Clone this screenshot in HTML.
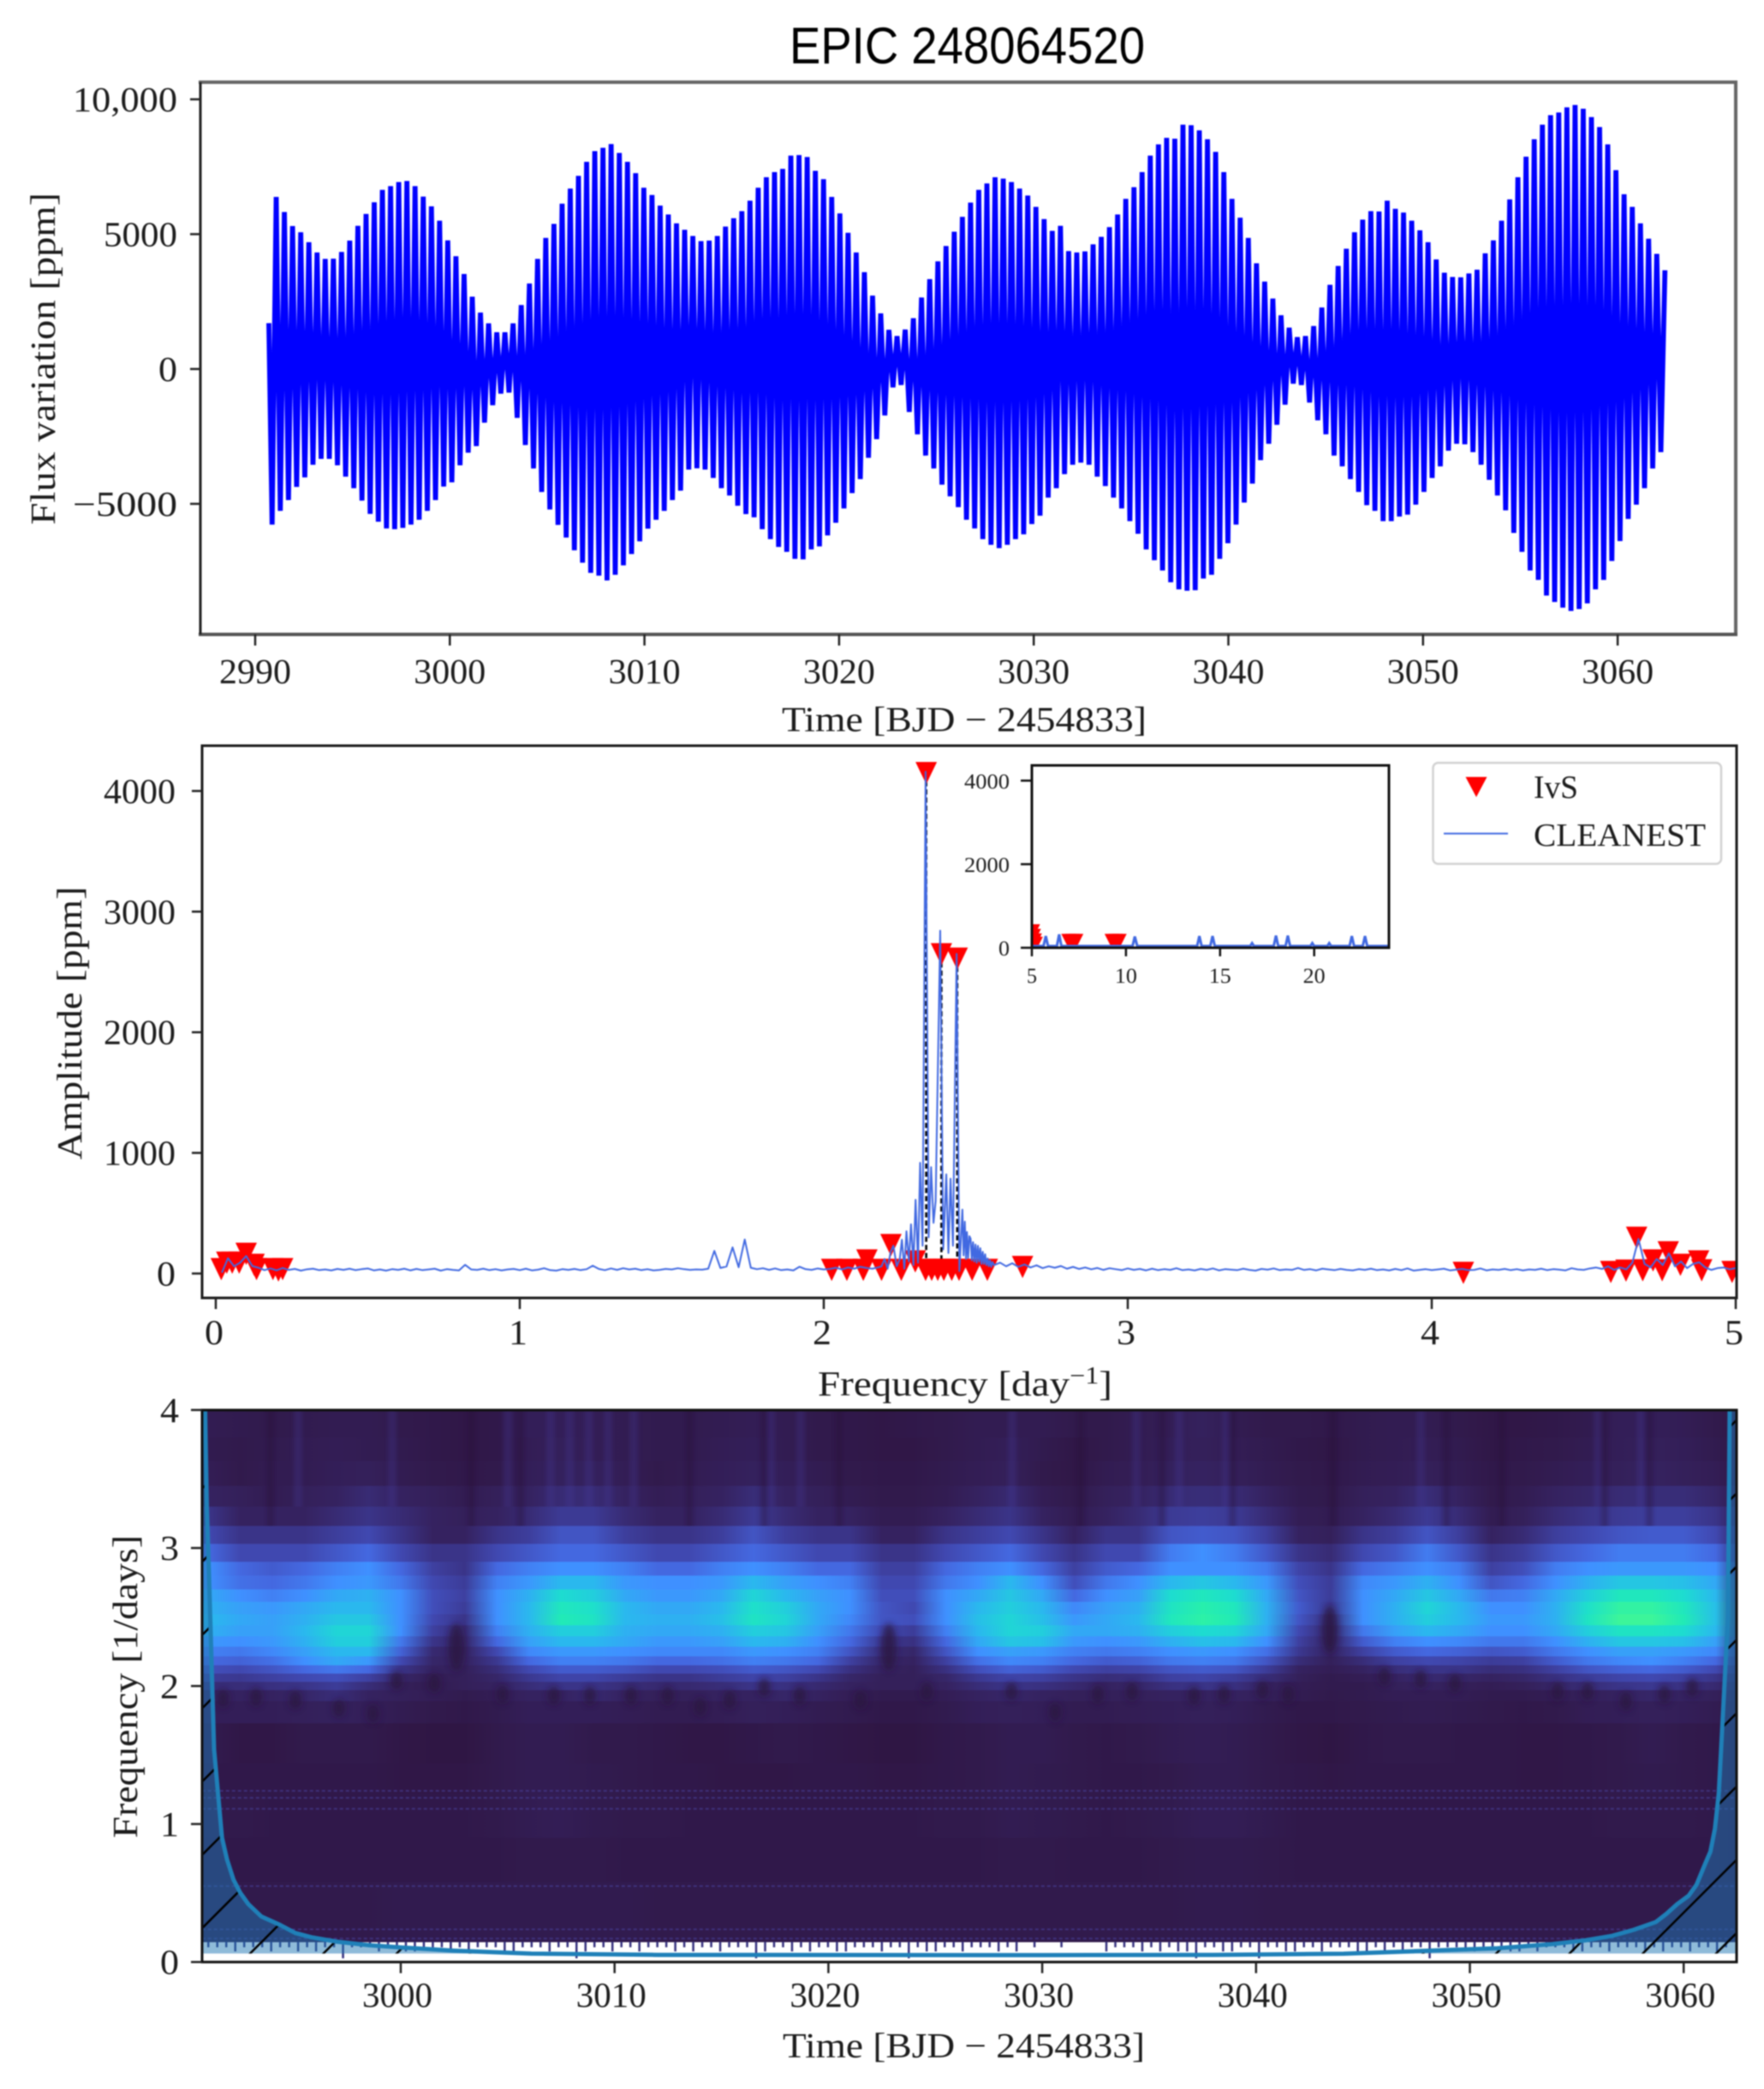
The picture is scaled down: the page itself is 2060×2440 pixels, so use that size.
<!DOCTYPE html>
<html lang="en">
<head>
<meta charset="utf-8">
<title>EPIC 248064520</title>
<style>
html,body{margin:0;padding:0;background:#fff;width:2060px;height:2440px;overflow:hidden;}
#chart{display:block;width:2060px;height:2440px;overflow:hidden;filter:blur(0.7px);}
text{font-family:"Liberation Serif",serif;fill:#1c1c1c;}
.sans{font-family:"Liberation Sans",sans-serif;fill:#000;}
</style>
</head>
<body>
<svg id="chart" xmlns="http://www.w3.org/2000/svg" width="2060" height="2440" viewBox="0 0 2060 2440">
  <defs>
    <clipPath id="clip-flux"><rect x="234" y="96" width="1793" height="645"/></clipPath>
    <clipPath id="clip-spec"><rect x="236" y="871" width="1792" height="645"/></clipPath>
    <clipPath id="clip-inset"><rect x="1205" y="894" width="417" height="213"/></clipPath>
    <clipPath id="clip-wave"><rect x="236" y="1647" width="1792" height="645"/></clipPath>
    <clipPath id="clip-coi"><path id="coi-clip-path" d=""/></clipPath>
    <filter id="soft" x="-80%" y="-80%" width="260%" height="260%"><feGaussianBlur stdDeviation="4"/></filter>
    <filter id="soft-x" x="-150%" y="-5%" width="400%" height="110%"><feGaussianBlur stdDeviation="2.5 0"/></filter>
  </defs>
  <rect x="0" y="0" width="2060" height="2440" fill="#fff"/>

  <text class="sans" x="922" y="74" font-size="60" textLength="415" lengthAdjust="spacingAndGlyphs">EPIC 248064520</text>

  <g id="panel-flux"></g>
  <text transform="rotate(-90 64 419)" x="64" y="419" text-anchor="middle" font-size="41" textLength="388" lengthAdjust="spacingAndGlyphs">Flux variation [ppm]</text>
  <text x="913" y="854" font-size="41" textLength="426" lengthAdjust="spacingAndGlyphs">Time [BJD − 2454833]</text>

  <g id="panel-spec"></g>
  <text transform="rotate(-90 95 1195)" x="95" y="1195" text-anchor="middle" font-size="41" textLength="319" lengthAdjust="spacingAndGlyphs">Amplitude [ppm]</text>
  <text x="955" y="1630" font-size="41" textLength="344" lengthAdjust="spacingAndGlyphs">Frequency [day<tspan dy="-14" font-size="28">−1</tspan><tspan dy="14">]</tspan></text>

  <g id="panel-inset"></g>

  <g>
    <rect x="1673.5" y="891" width="336.5" height="118" rx="6" fill="#fff" stroke="#d2d2d2" stroke-width="2.5"/>
    <path d="M1711.5 907.5 L1736.5 907.5 L1724 931 Z" fill="#ff0000"/>
    <text x="1791" y="932" font-size="38" textLength="52" lengthAdjust="spacingAndGlyphs">IvS</text>
    <line x1="1686" y1="973.6" x2="1761" y2="973.6" stroke="#4169e1" stroke-width="2"/>
    <text x="1791" y="988" font-size="38" textLength="201" lengthAdjust="spacingAndGlyphs">CLEANEST</text>
  </g>

  <g id="panel-wave"></g>
  <text transform="rotate(-90 160 1970)" x="160" y="1970" text-anchor="middle" font-size="41" textLength="354" lengthAdjust="spacingAndGlyphs">Frequency [1/days]</text>
  <text x="914" y="2403" font-size="41" textLength="423" lengthAdjust="spacingAndGlyphs">Time [BJD − 2454833]</text>
</svg>

<script>
/* ---------- flux panel data ---------- */
const fluxTickTimes = [2990,3000,3010,3020,3030,3040,3050,3060];
const fluxTickValues = [10000,5000,0,-5000];
const fluxTickLabels = ["10,000","5000","0","−5000"];
const fluxStartValue = 1700;
const fluxFirstCrest = 2991.08;
const fluxCyclePeriod = 0.4197;
const fluxCrests = [6380,5820,5300,5070,4700,4320,4080,4090,4340,4760,
5310,5750,6180,6640,6780,6930,6970,6780,6390,6030,
5500,4770,4180,3520,2680,2090,1690,1360,1360,1690,
2370,3170,4080,4860,5380,6130,6690,7160,7680,8080,
8200,8340,8010,7680,7260,6720,6450,6060,5730,5400,
5160,4930,4740,4760,4930,5280,5590,5850,6240,6720,
7110,7300,7420,7910,7930,7860,7350,7040,6380,5770,
5050,4320,3590,2720,2060,1450,1220,1460,1880,2650,
3330,3990,4560,5090,5640,6170,6640,6880,7110,7060,
6930,6690,6430,6010,5560,5120,5310,4370,4320,4360,
4620,4900,5260,5730,6310,6740,7300,7910,8330,8570,
8540,9060,9040,8850,8520,8050,7300,6310,5610,4860,
3920,3240,2610,1990,1530,1180,1220,1590,2280,3120,
3820,4460,5070,5540,5850,5840,6240,5940,5800,5500,
5140,4700,4060,3570,3410,3400,3540,3680,4290,4770,
5500,6290,7110,7870,8520,9060,9410,9510,9700,9790,
9650,9340,8970,8330,7370,6480,6010,5400,4830,4270,3660];
const fluxTroughs = [5770,5260,4860,4370,4020,3550,3330,3330,3570,3990,
4420,4880,5370,5660,5910,5940,5890,5770,5590,5260,
4860,4360,4200,3570,3100,2860,1990,1340,910,870,
1810,2820,3690,4560,5210,5780,6250,6720,7180,7560,
7660,7840,7630,7280,6860,6390,5920,5590,5260,4860,
4510,3730,3680,3730,4040,4420,4690,5070,5380,5500,
5940,6310,6600,6780,7040,7060,6690,6580,6170,5700,
5170,4600,4080,3290,2600,1720,680,590,1590,2420,
3210,3690,4290,4720,5120,5590,5910,6310,6520,6640,
6520,6310,6130,5750,5440,4770,4420,3900,3550,3470,
3550,3990,4340,4770,5170,5640,6110,6690,7090,7470,
7910,8170,8220,8200,7770,7630,7040,6460,5770,4950,
4250,3380,2770,2070,1320,540,590,1240,1900,2420,
3210,3610,4080,4560,5050,5260,5640,5640,5470,5400,
5030,4560,4040,3610,3030,2770,2790,3080,3550,4110,
4690,5240,6080,6780,7470,7820,8400,8640,8850,8970,
8900,8690,8170,7820,7120,6380,5560,5030,4420,3690,3080];

/* ---------- spectrum panel data ---------- */
const specXTicks = [0,1,2,3,4,5];
const specYTicks = [0,1000,2000,3000,4000];
const specNoiseLowStart = 0.02;
const specNoiseStep = 0.02;
const specNoiseLow = [7,127,60,90,145,62,48,28,42,26,46,30,38,24,35,40,28,34,26,38,
30,40,28,36,42,26,34,24,36,30,40,26,38,28,34,40,24,36,30,26,
72,34,30,40,28,36,26,34,38,28,40,26,32,44,28,24,36,30,38,28,
36,65,38,28,42,30,44,34,40,28,36,26,30,38,34,44,36,30,34,32,
40,188,46,58,217,52,282,48,36,44,30,42,28,34,26,56,36,30,42,34,
38,48,34,50,40,56,46,40,52];
const specCombFreq = [2.19,2.20,2.21,2.22,2.229,2.24,2.25,2.257,2.265,2.272,2.28,2.287,2.295,2.302,2.31,2.317,2.325,2.335,2.345,2.353,2.361,2.368,2.383,2.393,2.403,2.41,2.417,2.425,2.437,2.446,2.456,2.46,2.464,2.468,2.471,2.475,2.479,2.483,2.487,2.491,2.495,2.499,2.503,2.507,2.511,2.515,2.519,2.523,2.527,2.531,2.535,2.539,2.543,2.547,2.551,2.555];
const specCombAmp = [60,120,40,180,230,60,120,280,40,350,100,408,70,611,90,918,230,4160,300,882,420,600,2842,200,822,170,786,230,2650,20,530,150,430,120,344,130,310,290,110,260,100,240,90,230,100,210,80,180,80,160,70,125,60,110,55,95];
const specNoiseHighStart = 2.56;
const specNoiseHigh = [70,90,60,85,55,75,50,68,45,60,
48,62,40,55,38,50,35,46,30,44,
36,28,42,30,38,26,40,28,36,30,
44,28,34,26,38,30,42,26,36,32,
28,40,30,24,38,32,42,28,34,30,
46,30,36,26,40,34,28,38,30,26,
36,30,40,28,34,26,38,28,42,24,
30,36,28,34,40,26,32,38,28,30,
42,26,34,30,38,28,36,26,34,30,
40,28,36,32,26,44,34,30,42,50,
38,60,30,50,34,90,287,80,50,120,
70,167,60,100,45,80,93,50,30,45,
50,35,45,30];
const dominantFreq = [2.337,2.387,2.439];
const dominantAmp = [4148,2646,2610];
const ivsFreq = [0.018,0.036,0.054,0.077,0.1,0.126,0.134,0.188,0.206,0.22,
2.026,2.076,2.13,2.142,2.19,2.221,2.255,2.301,2.335,2.355,2.375,2.395,2.421,2.445,2.488,2.538,2.654,4.104,4.589,4.639,4.674,4.694,4.728,4.758,4.778,4.818,4.878,4.888,4.988];
const ivsAmp = [36,90,90,90,163,72,36,36,25,36,
30,30,30,108,30,236,30,100,30,30,30,30,30,30,30,30,54,5,12,24,296,27,108,27,176,72,100,27,12];

/* ---------- inset data ---------- */
const insetXTicks = [5,10,15,20];
const insetYTicks = [0,2000,4000];
const insetFreq = [5,5.62,5.74,5.86,6.33,6.45,6.57,10.35,10.47,10.6,13.78,13.9,14.02,14.48,14.6,14.72,16.6,16.7,16.8,17.85,17.97,18.09,18.48,18.6,18.72,19.8,19.9,20,20.7,20.8,20.9,21.88,22,22.12,22.58,22.7,22.82,24];
const insetAmp = [40,40,280,40,40,320,40,40,270,40,40,280,40,40,280,40,40,110,40,40,290,40,40,290,40,40,110,40,40,110,40,40,280,40,40,280,40,40];
const insetIvsFreq = [5.05,5.1,5.15,5.2,6.95,7.15,7.35,9.25,9.45,9.65];
const insetIvsAmp = [390,280,170,90,160,160,160,160,160,160];

/* ---------- wavelet panel data ---------- */
const waveXTicks = [3000,3010,3020,3030,3040,3050,3060];
const waveYTicks = [0,1,2,3,4];
const heatColumnStart = 2991;
const heatColumnStep = 1.5;
const heatBandEdges = [4,3.80,3.63,3.45,3.30,3.16,3.03,2.90,2.80,2.70,2.61,2.52,2.44,2.36,2.285,2.215,2.15,2.09,2.03,1.97,1.89,1.73,1.44,1.22,0.90,0.58,0.147];
const heatBands = [
[.5,.4,.3,.4,.5,.5,.3,.2,.1,.2,.7,.7,.6,.5,.4,.4,.5,.6,.5,.3,.2,.1,.2,.3,.5,.5,.5,.3,.3,.5,.6,.9,.5,.3,.3,.2,.4,.5,.5,.3,.1,.1,.2,.4,.7,.7,.6,.3,0],
[.4,.3,.4,.5,.6,.5,.4,.2,.1,.2,.6,.8,.6,.5,.4,.4,.6,.7,.5,.3,.2,.1,.1,.3,.5,.7,.4,.1,.3,.5,.7,.8,.6,.4,.2,.1,.4,.5,.6,.4,.1,.2,.3,.5,.7,.8,.7,.4,0],
[.6,.3,.5,.5,.7,.8,.5,.3,.2,.3,.7,.9,.9,.6,.3,.5,.7,.9,.7,.5,.3,.2,.2,.4,.6,.8,.3,.1,.5,.6,.9,1,.8,.5,.3,.2,.5,.6,.8,.5,.2,.3,.5,.7,.8,1,.8,.6,0],
[1,.8,.5,.8,1,1.5,1,.8,.5,.8,1,1.5,1.5,1,.6,.8,1,1.6,1,.8,.5,.3,.3,.5,1,1.4,.6,.3,.8,1,1.5,1.6,1.5,1,.4,.3,.8,1,1.6,1,.3,.5,1,1.2,1.5,1.6,1.6,1.2,0],
[2,1,1,1,1.5,2,1.5,1,.8,1,1.5,2.3,2.3,1.5,1,1,1.5,2.3,1.5,1,1,.5,.5,1,1.5,2,1,.5,1,1.5,2.3,2.5,2.3,1.5,.6,.5,1,1.5,2.3,1.5,.5,.8,1.5,2,2.3,2.5,2.5,2,0],
[3,2,2,2,2.5,3,2,1,1,2,2.5,3.4,3.4,2.5,2,2,2.5,3.4,2.5,2,2,1,1,2,2.5,3,2,1,2,2,3.4,3.6,3.4,2.5,1,.8,2,2.5,3.4,2.5,1,1.5,2.5,3,3.4,3.6,3.6,3,0],
[4,3,3,3,3.5,4,3,2,2,3,3.5,4,4,3.5,3,3,3.5,4,3.5,3,3,2,2,3,3.5,4,3,2,3,3,4.5,5,4.5,3.5,2,1.5,3,3.5,4.5,3.5,2,2.5,3.5,4,4.5,4.5,4.5,4,0],
[5,4,3.6,4,4.6,5,4,2.6,2,4,4.6,5,5,4.6,4,4,4.6,5,4.6,4,4,2.6,2.6,4,4.6,5,4,2.6,3.6,4,5,5,5,4.5,2.8,2,4,4.5,5,4.5,2.6,3.2,4.5,5,5.2,5.2,5.2,5,0],
[5,4.2,4,4.4,5,5.2,4.4,3,2.4,4.6,5.2,6,6,5.2,5,5,5.2,6,5.4,5,4.6,3,3,4.4,5,6,5,3.2,4.4,5,6,6.4,6,5.2,3.2,2.4,4.8,5.2,5.8,5,3.4,4,5,5.8,6.4,6.4,6.2,5.6,0],
[5.6,5,4.6,5,5.6,5.8,5,3.2,2.6,5,5.8,7,6.6,5.6,5.2,5.2,5.6,6.8,6,5.4,5,3.2,3.2,5,5.6,6.4,5.6,4,5,5.4,7,7.6,7,5.6,3.4,2.4,5,5.6,6.4,5.6,4.4,4.6,5.6,6.6,7.6,7.6,7,6,0],
[5.8,5.4,5.2,5.6,6,6,5,3.2,2.4,5,6,7.6,7.2,6,5.6,5.6,6,7.2,6.6,5.6,5,3.4,3,5,6,6.6,6,4.8,5.4,5.8,7.4,8.2,7.6,5.8,3.6,2.2,5,5.8,6.8,6,5,5,5.8,7.2,8.6,8.6,7.6,6.2,0],
[6,5.6,5.4,5.8,6.4,6.4,5,3,2,5,6,7.8,7.4,6,5.8,5.8,6.2,7.4,6.8,5.6,4.8,3.4,3.2,5,6.2,6.8,6.2,5.2,5.6,6,7.6,8.4,7.8,5.8,3.4,1.6,5,5.8,6.6,6,5.2,5.2,5.8,7.4,9,9,7.8,6.2,0],
[5.8,5.4,5.4,6,6.8,6.8,5,2.6,1.4,4.6,5.8,6.6,6.6,5.8,5.6,5.6,5.8,6.6,6.4,5.4,4.4,3,2.4,4.6,6,6.8,6.6,5.6,5.6,5.8,6.6,7,6.8,5.6,3,1.2,4.4,5.4,6,5.6,5,5,5.6,6.6,7.4,7.4,7,6,0],
[5.2,5,5.2,5.8,6.6,6.6,4.4,2,1.2,4,5.4,6,6,5.6,5.2,5.2,5.4,6,5.8,5,4,2.2,1.8,4,5.6,6.4,6.2,5.2,5,5.2,5.8,6.2,6,5,2.6,1,3.6,4.6,5,4.8,4.4,4.4,5,5.8,6.4,6.4,6.2,5.4,0],
[4.6,4.4,4.8,5.4,6,6,3.8,1.4,1,3,4.8,5.2,5.2,5,4.8,4.8,4.8,5.2,5,4.6,3.4,1.6,1.2,3.4,5,5.4,5.2,4.6,4.4,4.6,5,5.2,5,4.2,2.2,1,2.6,3.6,4,3.8,3.4,3.6,4.4,5,5.4,5.4,5.2,4.8,0],
[4,3.8,4.2,5,5.6,5.2,3,1.2,1,2.2,4,4.6,4.6,4.4,4,4,4.2,4.6,4.4,4,2.6,1.2,1,2.6,4.2,4.8,4.6,4,3.6,3.8,4.4,4.6,4.4,3.4,1.6,.8,1.6,2.6,3,2.8,2.4,2.6,3.6,4.4,4.8,5,4.6,4,0],
[3.2,3,3.4,4,4.4,4,2,1,.8,1.6,3,3.6,3.6,3.4,3,3,3.2,3.6,3.4,3,1.8,1,.8,1.8,3.2,3.8,3.6,3,2.6,2.8,3.4,3.6,3.4,2.4,1,.6,1,1.6,2,2,1.6,1.8,2.6,3.4,3.8,4,3.6,3,0],
[2.4,2.2,2.6,3,3.2,2.6,1.2,.6,.8,1.2,2.2,2.8,2.8,2.4,2,2,2.4,2.8,2.6,2,1.2,.8,.8,1.2,2.2,2.8,2.6,2,1.6,1.8,2.6,2.8,2.4,1.6,.8,.4,.6,1,1.4,1.2,1,1.2,1.8,2.4,2.8,3,2.6,2,0],
[1.6,1.6,1.8,2,2.4,1.6,.8,.5,.8,1,1.6,2,2,1.6,1.4,1.4,1.6,2,1.8,1.4,1,.8,.8,1,1.6,2,1.8,1.4,1,1.2,1.8,2,1.8,1,.6,.4,.4,.8,1,.8,.6,.8,1.2,1.6,2,2.2,1.8,1.4,0],
[1,1,1,1.2,1.6,1,.8,.6,.4,.6,1,1,1.4,1,.8,.8,1,1,1.2,1,.6,.4,.4,.6,1,1.2,1,.8,.8,.8,1,1,1,.8,.5,.3,.4,.6,.6,.6,.4,.4,.6,.8,1,1.2,1,.8,0],
[.7,.7,.7,.8,.9,.7,.5,.3,.2,.4,.7,.7,.7,.6,.5,.5,.6,.8,.7,.5,.4,.2,.2,.4,.7,.8,.7,.5,.5,.6,.7,.8,.7,.4,.2,.2,.3,.4,.5,.4,.3,.2,.3,.6,.7,.8,.7,.5,0],
[.4,.1,.1,.3,.3,.3,.1,0,0,.3,.5,.5,.3,.3,.2,.1,.1,.2,.3,.2,.1,0,0,.2,.3,.5,.5,.3,.2,.3,.5,.6,.5,.3,.1,0,.2,.3,.3,.2,.2,.1,.1,.2,.3,.5,.3,.2,0],
[.2,.2,.2,.2,.2,.2,.1,.1,.1,.3,.5,.5,.4,.3,.2,.2,.1,.1,.1,.2,.2,.1,.1,.2,.3,.5,.4,.3,.2,.2,.3,.5,.5,.3,.2,.1,.2,.2,.2,.2,.2,.1,.1,.2,.3,.4,.3,.2,0],
[.3,.3,.2,.2,.2,.2,.2,.2,.2,.3,.5,.6,.4,.3,.3,.2,.2,.2,.2,.2,.2,.2,.2,.3,.3,.5,.4,.3,.2,.3,.4,.6,.6,.4,.2,.2,.2,.2,.2,.2,.2,.2,.2,.2,.3,.3,.3,.2,0],
[.2,.2,.2,.2,.2,.2,.2,.2,.2,.2,.3,.3,.3,.2,.2,.2,.2,.2,.2,.2,.2,.2,.2,.2,.2,.3,.3,.2,.2,.2,.3,.4,.4,.3,.2,.2,.2,.2,.2,.2,.2,.2,.2,.2,.2,.2,.2,.2,0],
[.3,.3,.3,.3,.3,.3,.4,.4,.4,.4,.4,.4,.4,.4,.3,.3,.3,.3,.3,.3,.3,.3,.3,.3,.3,.3,.3,.3,.3,.3,.3,.4,.4,.3,.3,.3,.3,.3,.3,.3,.3,.3,.3,.3,.3,.3,.3,.3,.3]
];
const brightStripeTimes = [2995.2,2999.6,3005,3007,3007.9,3008.8,3009.7,3010.9,3017.3,3018.7,3028.6,3034.4,3036.4,3038.6,3047.7,3056,3058];
const darkStripeTimes = [2993.9,3003.3,3005.6,3013.5,3017,3020.5,3031.8,3035.6,3038.9,3043.6,3048.9,3051.5,3056.3,3058.4];
const powerMinimaTime = [2991.69,2993.23,2995.07,2997.11,2998.7,2999.8,3001.57,3002.6,3004.76,3007.16,3008.85,3010.77,3012.48,3014,3015.38,3017,3018.66,3021.5,3022.83,3024.6,3028.56,3030.6,3032.6,3034.2,3037.1,3038.5,3040.3,3041.5,3043.45,3046,3047.7,3049.3,3054.1,3055.5,3057.3,3059.1,3060.4];
const powerMinimaFreq = [1.91,1.92,1.90,1.84,1.80,2.04,2.02,2.28,1.94,1.93,1.93,1.93,1.93,1.85,1.90,1.99,1.93,1.90,2.28,1.96,1.96,1.81,1.94,1.96,1.93,1.94,1.97,1.94,2.41,2.07,2.05,2.02,1.96,1.96,1.89,1.94,1.99];
const faintRidgeFreq = [1.24,1.19,1.11,0.55,0.237,0.17];
const rippleStart = 2991;
const rippleStep = 0.42;
const rippleDepth = [4,4,4,7,4,4,4,7,4,4,7,4,7,4,4,12,4,4,4,7,4,4,7,7,4,4,4,7,4,7,4,4,4,7,7,4,4,4,7,4,4,12,7,4,4,7,4,4,7,4,4,4,7,4,7,4,4,7,4,4,4,12,7,4,4,7,4,7,4,4,7,7,4,4,4,7,4,4,12,4,7,7,4,4,7,4,4,4,7,4,7,0,4,0,0,4,0,0,0,0,7,4,4,4,7,4,7,4,7,7,12,4,4,7,7,4,4,12,4,4,7,7,4,4,7,4,4,4,7,7,4,7,4,7,4,4,12,4,4,4,7,7,4,4,4,7,7,4,7,4,4,4,7,7,4,4,7,4,4,4,7,4,7,4,4,7,4,4,7,4];
const coiTime = [2990.85,2990.93,2991.03,2991.27,2991.64,2991.88,2992.18,2992.5,2992.87,2993.48,2994.34,2995.07,2995.81,2997.03,2998.5,2999.98,3002.43,3006.1,3012,3030,3038,3044.1,3051.3,3053.85,3055.4,3056.66,3057.67,3058.7,3059.2,3059.7,3060.23,3060.6,3061,3061.25,3061.46,3061.64,3061.75,3062.07,3062.15];
const coiFreq = [4,3.3,2.82,1.54,0.90,0.74,0.596,0.50,0.42,0.33,0.27,0.21,0.18,0.147,0.122,0.106,0.083,0.061,0.052,0.05,0.052,0.06,0.10,0.13,0.157,0.19,0.234,0.29,0.35,0.42,0.48,0.56,0.71,0.80,0.965,1.22,1.54,2.5,4];
const heatPalette = ["#2f1644","#352260","#3a3488","#4048b0","#4468e0","#3f90ff","#2ab8ee","#1ddcd0","#22eeb0","#3cf59a","#60f890"];

/* ---------- scales ---------- */
const fluxX = t => 298 + (t - 2990) * 22.73;
const fluxY = v => 431 - v * 0.0315;
const specX = f => 252 + f * 355;
const specY = a => 1487.5 - a * 0.1409;
const insetX = f => 1205 + (f - 5) * 21.98;
const insetY = a => 1107 - a * 0.0488;
const waveX = t => 468 + (t - 3000) * 24.97;
const waveY = f => 2291.7 - f * 161.2;

const NS = "http://www.w3.org/2000/svg";
function make(tag, parent, attrs) {
  const e = document.createElementNS(NS, tag);
  for (const k in attrs) e.setAttribute(k, attrs[k]);
  parent.appendChild(e);
  return e;
}
function label(parent, x, y, str, anchor, size, len) {
  const t = make("text", parent, {x: x, y: y, "text-anchor": anchor, "font-size": size, textLength: len, lengthAdjust: "spacingAndGlyphs"});
  t.textContent = str;
  return t;
}
function xTick(parent, px, top, tickLen, w, stroke) {
  const l = make("line", parent, {x1: px, x2: px, y1: top, y2: top + tickLen, stroke: stroke, "stroke-width": w});
  
  
}
function yTick(parent, py, left, tickLen, w, stroke) {
  const l = make("line", parent, {x1: left - tickLen, x2: left, y1: py, y2: py, stroke: stroke, "stroke-width": w});
  
  
}
function triangle(parent, cx, cy, w, h) {
  return make("path", parent, {d: "M" + (cx - w / 2) + " " + (cy - h / 2) + " L" + (cx + w / 2) + " " + (cy - h / 2) + " L" + cx + " " + (cy + h / 2) + " Z", fill: "#ff0000"});
}
function toPath(points) {
  return points.map((p, i) => (i ? "L" : "M") + p[0].toFixed(2) + " " + p[1].toFixed(2)).join(" ");
}
function hexToRgb(h) {
  return [parseInt(h.slice(1, 3), 16), parseInt(h.slice(3, 5), 16), parseInt(h.slice(5, 7), 16)];
}
function heatColour(v) {
  const lo = Math.max(0, Math.min(heatPalette.length - 2, Math.floor(v)));
  const frac = Math.min(1, Math.max(0, v - lo));
  const a = hexToRgb(heatPalette[lo]);
  const b = hexToRgb(heatPalette[lo + 1]);
  return "rgb(" + a.map((c, i) => Math.round(c + (b[i] - c) * frac)).join(",") + ")";
}

/* ---------- flux panel ---------- */
(function () {
  const g = document.getElementById("panel-flux");
  const clip = make("g", g, {"clip-path": "url(#clip-flux)"});
  const pts = [[fluxX(fluxFirstCrest - fluxCyclePeriod * 0.9), fluxY(fluxStartValue)]];
  fluxCrests.forEach(function (crest, i) {
    const tCrest = fluxFirstCrest + i * fluxCyclePeriod;
    if (i < fluxTroughs.length) pts.push([fluxX(tCrest - fluxCyclePeriod / 2), fluxY(-fluxTroughs[i])]);
    pts.push([fluxX(tCrest), fluxY(crest)]);
  });
  const line = make("path", clip, {d: toPath(pts), fill: "none", stroke: "#0000ff", "stroke-width": 5.8, "stroke-linejoin": "bevel"});
  
  

  const top = make("line", g, {x1: 232, x2: 2029, y1: 96, y2: 96, stroke: "#666", "stroke-width": 4});
  
  
  const right = make("line", g, {x1: 2027, x2: 2027, y1: 96, y2: 741, stroke: "#666", "stroke-width": 4});
  
  
  const bottom = make("line", g, {x1: 232, x2: 2029, y1: 741, y2: 741, stroke: "#555", "stroke-width": 4});
  
  
  const left = make("line", g, {x1: 234, x2: 234, y1: 96, y2: 741, stroke: "#222", "stroke-width": 3});
  
  

  fluxTickTimes.forEach(function (t) {
    xTick(g, fluxX(t), 741, 13, 2.5, "#222");
    const lab = label(g, fluxX(t), 798, String(t), "middle", 41, 84);
    
    
  });
  fluxTickValues.forEach(function (v, i) {
    yTick(g, fluxY(v), 234, 12, 2.5, "#222");
    const s = fluxTickLabels[i];
    const lab = label(g, 207, fluxY(v) + 14, s, "end", 41, s.length === 1 ? 22 : s.length === 4 ? 86 : 122);
    
    
  });
})();

/* ---------- spectrum panel ---------- */
(function () {
  const g = document.getElementById("panel-spec");
  const clip = make("g", g, {"clip-path": "url(#clip-spec)"});
  dominantFreq.forEach(function (f, i) {
    const d = make("line", clip, {x1: specX(f), x2: specX(f), y1: specY(dominantAmp[i]), y2: specY(30), stroke: "#000", "stroke-width": 2.6, "stroke-dasharray": "6 3.5"});
    
    
  });
  const allIvsAmp = ivsAmp.concat(dominantAmp);
  ivsFreq.concat(dominantFreq).forEach(function (f, i) {
    const m = triangle(clip, specX(f), specY(allIvsAmp[i]), 25, 26);
    
    
  });
  const pts = [];
  specNoiseLow.forEach(function (a, i) { pts.push([specX(specNoiseLowStart + i * specNoiseStep), specY(a)]); });
  specCombFreq.forEach(function (f, i) { pts.push([specX(f), specY(specCombAmp[i])]); });
  specNoiseHigh.forEach(function (a, i) { pts.push([specX(specNoiseHighStart + i * specNoiseStep), specY(a)]); });
  const line = make("path", clip, {d: toPath(pts), fill: "none", stroke: "#4169e1", "stroke-width": 2, "stroke-linejoin": "round"});
  
  

  const frame = make("rect", g, {x: 236, y: 871, width: 1792, height: 645, fill: "none", stroke: "#1a1a1a", "stroke-width": 3});
  
  

  specXTicks.forEach(function (f) {
    xTick(g, specX(f), 1516, 13, 2.5, "#222");
    const lab = label(g, specX(f) - 2, 1570, String(f), "middle", 41, 22);
    
    
  });
  specYTicks.forEach(function (a) {
    yTick(g, specY(a), 236, 12, 2.5, "#222");
    const s = String(a);
    const lab = label(g, 205, specY(a) + 14, s, "end", 41, s.length === 1 ? 22 : 84);
    
    
  });
})();

/* ---------- inset ---------- */
(function () {
  const g = document.getElementById("panel-inset");
  const bg = make("rect", g, {x: 1205, y: 894, width: 417, height: 213, fill: "#fff"});
  
  
  const clip = make("g", g, {"clip-path": "url(#clip-inset)"});
  insetIvsFreq.forEach(function (f, i) {
    const m = triangle(clip, insetX(f), insetY(insetIvsAmp[i]), 17, 17);
    
    
  });
  const pts = insetFreq.map((f, i) => [insetX(f), insetY(insetAmp[i])]);
  const line = make("path", clip, {d: toPath(pts), fill: "none", stroke: "#4169e1", "stroke-width": 3});
  
  
  const frame = make("rect", g, {x: 1205, y: 894, width: 417, height: 213, fill: "none", stroke: "#111", "stroke-width": 3});
  
  
  insetXTicks.forEach(function (f) {
    xTick(g, insetX(f), 1107, 10, 2.5, "#111");
    const s = String(f);
    const lab = label(g, insetX(f), 1148, s, "middle", 25, s.length === 1 ? 12 : 26);
    
    
  });
  insetYTicks.forEach(function (a) {
    yTick(g, insetY(a), 1205, 13, 2.5, "#111");
    const s = String(a);
    const lab = label(g, 1179, insetY(a) + 9, s, "end", 25, s.length === 1 ? 13 : 53);
    
    
  });
})();

/* ---------- wavelet panel ---------- */
(function () {
  const g = document.getElementById("panel-wave");
  const defs = document.querySelector("svg defs");
  const clip = make("g", g, {"clip-path": "url(#clip-wave)"});
  const x0 = waveX(2990.7), x1 = waveX(3062.5);

  heatBands.forEach(function (row, r) {
    const grad = make("linearGradient", defs, {id: "band" + r, gradientUnits: "userSpaceOnUse",
      x1: waveX(heatColumnStart), x2: waveX(heatColumnStart + (row.length - 1) * heatColumnStep), y1: 0, y2: 0});
    row.forEach(function (v, i) {
      make("stop", grad, {offset: i / (row.length - 1), "stop-color": heatColour(v)});
    });
    const yTop = waveY(heatBandEdges[r]);
    const yBot = waveY(heatBandEdges[r + 1]);
    const cell = make("rect", clip, {x: x0, y: yTop, width: x1 - x0, height: yBot - yTop + 0.5, fill: "url(#band" + r + ")"});
    
    
  });

  brightStripeTimes.forEach(function (t) {
    const s = make("rect", clip, {x: waveX(t) - 5, y: waveY(4), width: 10, height: waveY(3.3) - waveY(4), fill: "#4a40a8", opacity: 0.22, filter: "url(#soft-x)"});
    
    
  });
  darkStripeTimes.forEach(function (t) {
    const s = make("rect", clip, {x: waveX(t) - 4, y: waveY(4), width: 8, height: waveY(3.16) - waveY(4), fill: "#260c36", opacity: 0.32, filter: "url(#soft-x)"});
    
    
  });

  powerMinimaTime.forEach(function (t, i) {
    const f = powerMinimaFreq[i];
    const dot = make("ellipse", clip, {cx: waveX(t), cy: waveY(f), rx: f > 2.2 ? 9 : 7, ry: f > 2.2 ? 28 : 11, fill: "#2a1440", opacity: 0.8, filter: "url(#soft)"});
    
    
  });

  faintRidgeFreq.forEach(function (f) {
    const r = make("line", clip, {x1: x0, x2: x1, y1: waveY(f), y2: waveY(f), stroke: "#4a43a0", "stroke-width": 2, "stroke-dasharray": "4 3", opacity: 0.55});
    
    
  });

  rippleDepth.forEach(function (d, i) {
    if (!d) return;
    const px = waveX(rippleStart + i * rippleStep);
    const tick = make("line", clip, {x1: px, x2: px, y1: waveY(0.147), y2: waveY(0.147 - d / 100), stroke: "#35307e", "stroke-width": 2.5});
    
    
  });

  const floorF = 0.062;
  const poly = [[x0, waveY(4)]];
  coiTime.forEach(function (t, i) { poly.push([waveX(t), waveY(Math.max(coiFreq[i], floorF))]); });
  poly.push([x1, waveY(4)], [x1, waveY(floorF)], [x0, waveY(floorF)]);
  const polyD = toPath(poly) + " Z";
  document.getElementById("coi-clip-path").setAttribute("d", polyD);
  const fill = make("path", clip, {d: polyD, fill: "#1f77b4", "fill-opacity": 0.5});
  
  

  const hatch = make("g", clip, {"clip-path": "url(#clip-coi)"});
  
  
  const hatchLeft = 236, hatchRight = 2028, hatchTop = 1647, hatchBottom = 2292;
  for (let c = 1889; c < hatchRight + hatchBottom; c += 85.6) {
    const xa = Math.max(hatchLeft, c - hatchBottom);
    const xb = Math.min(hatchRight, c - hatchTop);
    make("line", hatch, {x1: xa, y1: c - xa, x2: xb, y2: c - xb, stroke: "#000", "stroke-width": 2.5});
  }

  const coiPts = coiTime.map((t, i) => [waveX(t), waveY(coiFreq[i])]);
  const coi = make("path", clip, {d: toPath(coiPts), fill: "none", stroke: "#1f80b8", "stroke-width": 5, "stroke-linejoin": "round"});
  
  

  const frame = make("rect", g, {x: 236, y: 1647, width: 1792, height: 644.7, fill: "none", stroke: "#111", "stroke-width": 3});
  
  

  waveXTicks.forEach(function (t) {
    xTick(g, waveX(t), 2291.7, 13, 2.5, "#222");
    const lab = label(g, waveX(t) - 4, 2344, String(t), "middle", 41, 82);
    
    
  });
  waveYTicks.forEach(function (f) {
    yTick(g, waveY(f), 236, 13, 2.5, "#222");
    const lab = label(g, 209, waveY(f) + 14, String(f), "end", 41, 22);
    
    
  });
})();
</script>
</body>
</html>
